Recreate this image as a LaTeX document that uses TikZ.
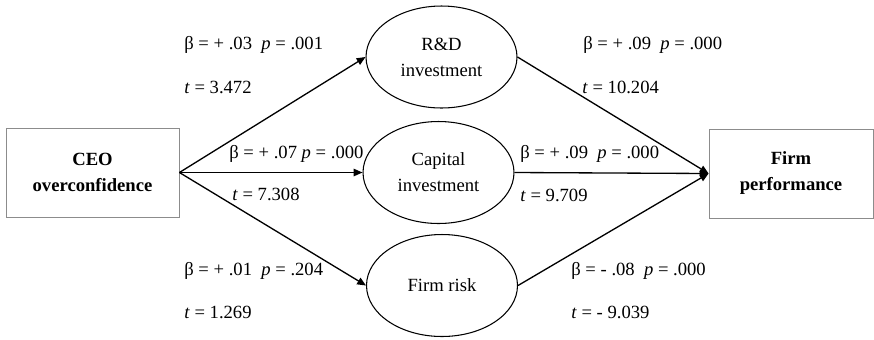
\documentclass[tikz,border=0pt]{standalone}
\usepackage{fontspec}
\setmainfont{Liberation Serif}
\usetikzlibrary{shapes.geometric,arrows.meta}
\newcommand{\figfont}{\fontsize{10.6}{14.8}\selectfont}
\begin{document}
\begin{tikzpicture}[x=0.02cm,y=-0.02cm,
        box/.style={draw=black!45,line width=0.5pt,minimum height=1.78cm,
            align=center,font=\figfont\bfseries},
        var/.style={ellipse,draw,line width=0.6pt,minimum width=3.02cm,
            minimum height=2.04cm,inner sep=0pt,align=center,font=\figfont},
        link/.style={line width=0.75pt,-{Triangle[length=5pt,width=4.2pt]}},
        lab/.style={anchor=base west,inner sep=0pt,font=\figfont}]
        \useasboundingbox (0,0) rectangle (874,339);

        % boxes
        \node[box,minimum width=3.46cm] (ceo) at (92.5,172.5) {CEO\\overconfidence};
        \node[box,minimum width=3.28cm] (perf) at (791,173.5) {Firm\\performance};

        % mediators
        \node[var] (rd) at (441.5,57) {R\&D\\investment};
        \node[var] (cap) at (438.5,172.5) {Capital\\investment};
        \node[var] (risk) at (442,285.5) {Firm risk};

        \draw[link] (ceo.east) -- (rd.west);
        \draw[link] (ceo.east) -- (cap.west);
        \draw[link] (ceo.east) -- (risk.west);
        \draw[link] (rd.east) -- (perf.west);
        \draw[link] (cap.east) -- (perf.west);
        \draw[link] (risk.east) -- (perf.west);

        % coefficients
        \node[lab] (b1) at (184,49) {β = + .03\ \ \textit{p} = .001};
        \node[lab] (t1) at (184,93) {\textit{t} = 3.472};
        \node[lab] (b2) at (229,158) {β = + .07 \textit{p} = .000};
        \node[lab] (t2) at (232,200) {\textit{t} = 7.308};
        \node[lab] (b3) at (184,275) {β = + .01\ \ \textit{p} = .204};
        \node[lab] (t3) at (184,318) {\textit{t} = 1.269};

        \node[lab] (b4) at (583,49) {β = + .09\ \ \textit{p} = .000};
        \node[lab] (t4) at (582,93) {\textit{t} = 10.204};
        \node[lab] (b5) at (520,158) {β = + .09\ \ \textit{p} = .000};
        \node[lab] (t5) at (520,201) {\textit{t} = 9.709};
        \node[lab] (b6) at (571,275) {β = - .08\ \ \textit{p} = .000};
        \node[lab] (t6) at (571,318) {\textit{t} = - 9.039};
    \end{tikzpicture}
\end{document}
